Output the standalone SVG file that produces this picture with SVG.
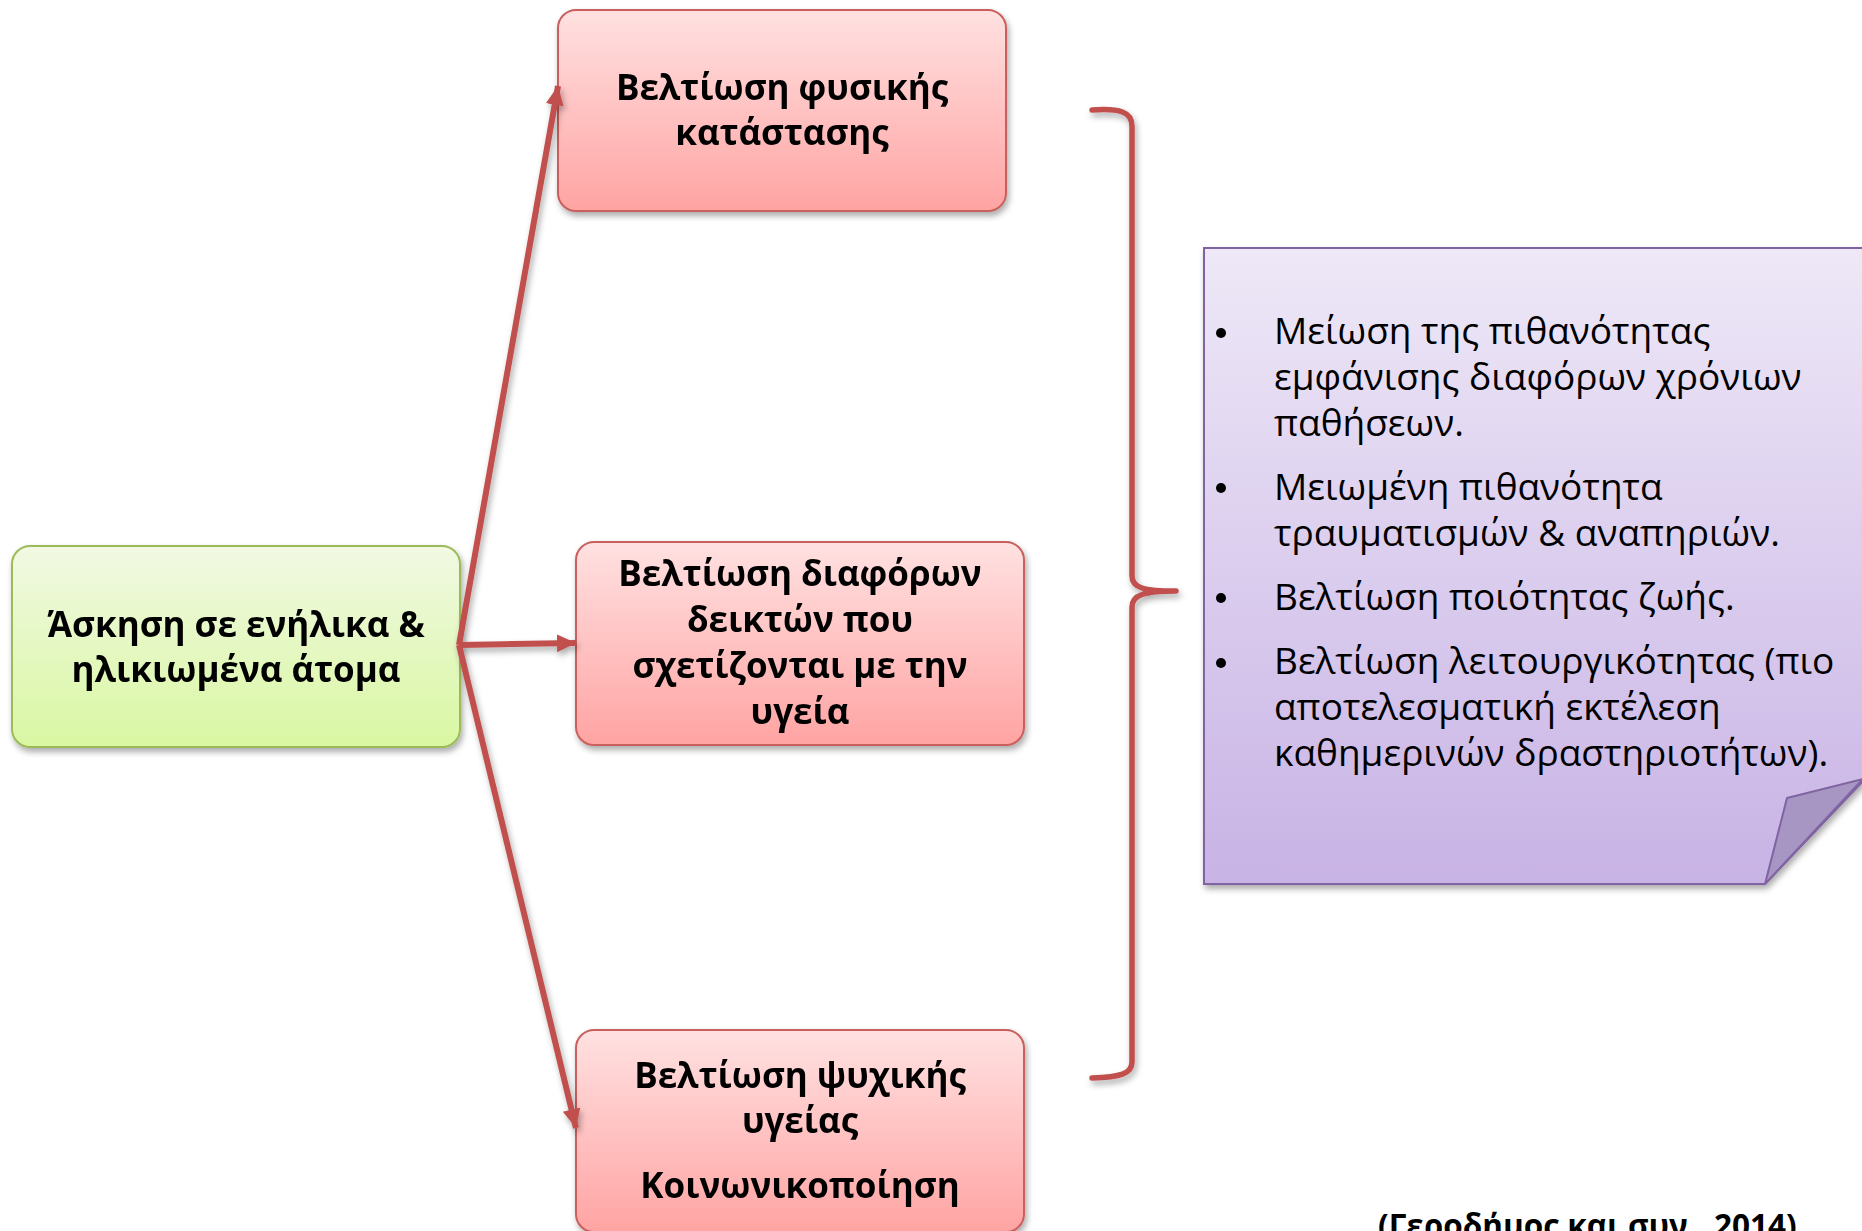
<svg xmlns="http://www.w3.org/2000/svg" width="1862" height="1231" viewBox="0 0 1862 1231">
  <defs>
    <linearGradient id="gGreen" x1="0" y1="0" x2="0" y2="1">
      <stop offset="0" stop-color="#F1F9E3"/>
      <stop offset="1" stop-color="#D9F7A2"/>
    </linearGradient>
    <linearGradient id="gRed" x1="0" y1="0" x2="0" y2="1">
      <stop offset="0" stop-color="#FFE1E1"/>
      <stop offset="1" stop-color="#FFA4A3"/>
    </linearGradient>
    <linearGradient id="gPurple" x1="0" y1="0" x2="0" y2="1">
      <stop offset="0" stop-color="#EEE8F7"/>
      <stop offset="1" stop-color="#C8B3E5"/>
    </linearGradient>
    <filter id="shadow" x="-10%" y="-10%" width="120%" height="130%">
      <feDropShadow dx="2" dy="4" stdDeviation="3" flood-color="#000" flood-opacity="0.33"/>
    </filter>
    <marker id="arrow" markerUnits="userSpaceOnUse" markerWidth="22" markerHeight="20" refX="19" refY="9" orient="auto">
      <path d="M0,0 L19,9 L0,18 Z" fill="#C0504D"/>
    </marker>
    <style>
      .box-green { fill: url(#gGreen); stroke: #9BBB59; stroke-width: 2; }
      .box-red { fill: url(#gRed); stroke: #C9605D; stroke-width: 2; }
      .note { fill: url(#gPurple); stroke: #8064A2; stroke-width: 2; }
      .flap { fill: #A796C3; stroke: #8064A2; stroke-width: 2; stroke-linejoin: round; }
      .label { font-family: "Open Sans", "Noto Sans", "DejaVu Sans", sans-serif; font-weight: bold; font-size: 35px; fill: #000; text-anchor: middle; }
      .bullet-text { font-family: "Open Sans", "Noto Sans", "DejaVu Sans", sans-serif; font-size: 37px; fill: #000; }
      .dot { fill: #000; }
      .link { fill: none; stroke: #C0504D; stroke-width: 6; marker-end: url(#arrow); }
      .brace { fill: none; stroke: #C0504D; stroke-width: 5.5; stroke-linecap: round; stroke-linejoin: round; }
      .cite { font-family: "Open Sans", "Noto Sans", "DejaVu Sans", sans-serif; font-weight: bold; font-size: 31.5px; fill: #000; }
    </style>
  </defs>

  <rect width="1862" height="1231" fill="#FFFFFF"/>

  <!-- source node -->
  <g id="node-exercise" filter="url(#shadow)">
    <rect class="box-green" x="12" y="546" width="448" height="201" rx="18"/>
    <text class="label" x="236" y="637">Άσκηση σε ενήλικα &amp;</text>
    <text class="label" x="236" y="682">ηλικιωμένα άτομα</text>
  </g>

  <!-- outcome nodes -->
  <g id="node-physical" filter="url(#shadow)">
    <rect class="box-red" x="558" y="10" width="448" height="201" rx="18"/>
    <text class="label" x="782" y="100">Βελτίωση φυσικής</text>
    <text class="label" x="782" y="145">κατάστασης</text>
  </g>

  <g id="node-indicators" filter="url(#shadow)">
    <rect class="box-red" x="576" y="542" width="448" height="203" rx="18"/>
    <text class="label" x="800" y="586">Βελτίωση διαφόρων</text>
    <text class="label" x="800" y="632">δεικτών που</text>
    <text class="label" x="800" y="678">σχετίζονται με την</text>
    <text class="label" x="800" y="724">υγεία</text>
  </g>

  <g id="node-mental" filter="url(#shadow)">
    <rect class="box-red" x="576" y="1030" width="448" height="202" rx="18"/>
    <text class="label" x="800" y="1088">Βελτίωση ψυχικής</text>
    <text class="label" x="800" y="1133">υγείας</text>
    <text class="label" x="800" y="1198">Κοινωνικοποίηση</text>
  </g>

  <!-- connectors -->
  <g id="connectors" filter="url(#shadow)">
    <path class="link" d="M459,645 L558,86"/>
    <path class="link" d="M459,645 L576,643"/>
    <path class="link" d="M459,645 L576,1128"/>
    <path class="brace" d="M1092,110 C1120,108 1132,112 1132,126 L1132,576 C1132,588 1144,591 1176,591 C1144,591 1132,595 1132,607 L1132,1062 C1132,1074 1120,1077 1092,1078"/>
  </g>

  <!-- benefits note -->
  <g id="node-benefits">
    <g filter="url(#shadow)">
      <path class="note" d="M1204,248 L1866,248 L1866,778 L1765,884 L1204,884 Z"/>
    </g>
    <path class="flap" d="M1765,884 L1787,798 L1863,779 Z"/>
    <circle class="dot" cx="1221" cy="333" r="5"/>
    <circle class="dot" cx="1221" cy="488" r="5"/>
    <circle class="dot" cx="1221" cy="598" r="5"/>
    <circle class="dot" cx="1221" cy="663" r="5"/>
    <text class="bullet-text" x="1274" y="344">Μείωση της πιθανότητας</text>
    <text class="bullet-text" x="1274" y="390">εμφάνισης διαφόρων χρόνιων</text>
    <text class="bullet-text" x="1274" y="436">παθήσεων.</text>
    <text class="bullet-text" x="1274" y="500">Μειωμένη πιθανότητα</text>
    <text class="bullet-text" x="1274" y="546">τραυματισμών &amp; αναπηριών.</text>
    <text class="bullet-text" x="1274" y="610">Βελτίωση ποιότητας ζωής.</text>
    <text class="bullet-text" x="1274" y="674">Βελτίωση λειτουργικότητας (πιο</text>
    <text class="bullet-text" x="1274" y="720">αποτελεσματική εκτέλεση</text>
    <text class="bullet-text" x="1274" y="766">καθημερινών δραστηριοτήτων).</text>
  </g>

  <!-- reference -->
  <text class="cite" x="1378" y="1237">(Γεροδήμος και συν., 2014)</text>
</svg>
